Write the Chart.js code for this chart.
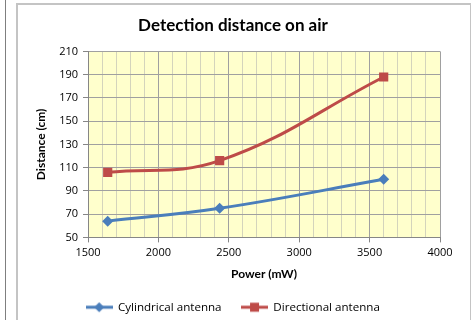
<!DOCTYPE html>
<html>
<head>
<meta charset="utf-8">
<script src="https://cdn.jsdelivr.net/npm/chart.js@4.4.1/dist/chart.umd.min.js"></script>
<style>
  html, body { margin: 0; padding: 0; background: #fff; overflow: hidden; }
  body { width: 471px; height: 320px; position: relative; }
  #sideRule { position: absolute; left: 5px; top: 0; width: 1px; height: 320px; background: #7f7f7f; }
  #frame { position: absolute; left: 16px; top: 3px; width: 452px; height: 340px;
           border: 2px solid #c4c4c4; border-bottom: none; }
  #wrap { position: absolute; left: 18px; top: 5px; width: 452px; height: 335px; }
</style>
</head>
<body>
<div id="sideRule"></div>
<div id="frame"></div>
<div id="wrap"><canvas id="distChart" width="452" height="335"></canvas></div>
<script>
// ============================
// Data
// ============================
const powerMw      = [1640, 2435, 3600];
const cylindrical  = [64, 75, 100];
const directional  = [106, 116, 188];
const seriesNames  = ['Cylindrical antenna', 'Directional antenna'];
const xTickLabels  = [1500, 2000, 2500, 3000, 3500, 4000];
const yTickLabels  = [50, 70, 90, 110, 130, 150, 170, 190, 210];

const BLUE = '#4a7ebb';
const RED  = '#be4b48';
const FONT = 'Lato, "Open Sans", sans-serif';
const BODY_FONT = '"Open Sans", Lato, sans-serif';

function toPoints(ys) {
    return powerMw.map((x, i) => ({ x: x, y: ys[i] }));
}

// ============================
// Legend icon: line with marker in the middle
// ============================
function legendIcon(color, shape) {
    const c = document.createElement('canvas');
    c.width = 27; c.height = 12;
    const g = c.getContext('2d');
    g.strokeStyle = color;
    g.lineWidth = 3;
    g.beginPath();
    g.moveTo(0, 6); g.lineTo(27, 6);
    g.stroke();
    g.fillStyle = color;
    g.beginPath();
    if (shape === 'diamond') {
        g.moveTo(13.5, 1); g.lineTo(18.5, 6); g.lineTo(13.5, 11); g.lineTo(8.5, 6);
    } else {
        g.rect(9, 1.5, 9, 9);
    }
    g.closePath();
    g.fill();
    return c;
}
const icons = [legendIcon(BLUE, 'diamond'), legendIcon(RED, 'square')];

// ============================
// Plot background
// ============================
const plotBg = {
    id: 'plotBg',
    beforeDraw(chart) {
        const { ctx, chartArea: a } = chart;
        ctx.save();
        ctx.fillStyle = '#ffffcc';
        ctx.fillRect(a.left, a.top, a.right - a.left, a.bottom - a.top);
        ctx.restore();
    }
};

const ctx = document.getElementById('distChart').getContext('2d');

new Chart(ctx, {
    type: 'line',
    data: {
        datasets: [
            {
                label: seriesNames[0],
                data: toPoints(cylindrical),
                borderColor: BLUE,
                backgroundColor: BLUE,
                borderWidth: 3,
                pointStyle: 'rectRot',
                pointRadius: 5.5,
                pointBorderWidth: 0,
                tension: 0.4
            },
            {
                label: seriesNames[1],
                data: toPoints(directional),
                borderColor: RED,
                backgroundColor: RED,
                borderWidth: 3,
                pointStyle: 'rect',
                pointRadius: 6.5,
                pointBorderWidth: 0,
                tension: 0.4
            }
        ]
    },
    options: {
        responsive: false,
        animation: false,
        layout: { padding: { left: 8, right: 30, top: 0, bottom: 17 } },
        plugins: {
            title: {
                display: true,
                text: 'Detection distance on air',
                color: '#000',
                font: { family: FONT, size: 17, weight: 'bold' },
                padding: { top: 10, bottom: 16 }
            },
            legend: {
                position: 'bottom',
                labels: {
                    usePointStyle: true,
                    pointStyleWidth: 26,
                    padding: 20,
                    color: '#000',
                    font: { family: BODY_FONT, size: 11.6 },
                    generateLabels(chart) {
                        const items = Chart.defaults.plugins.legend.labels.generateLabels(chart);
                        items.forEach((it, i) => { it.pointStyle = icons[i]; });
                        return items;
                    }
                }
            },
            tooltip: { enabled: false }
        },
        scales: {
            x: {
                type: 'linear',
                min: xTickLabels[0],
                max: xTickLabels[xTickLabels.length - 1],
                afterFit(scale) { scale.height = 44; },
                afterBuildTicks(scale) {
                    // every 100 mW, labelled only at the 500 steps
                    const t = [];
                    for (let v = scale.min; v <= scale.max; v += 100) t.push({ value: v });
                    scale.ticks = t;
                },
                ticks: {
                    autoSkip: false,
                    maxRotation: 0,
                    padding: 4,
                    color: '#000',
                    font: { family: BODY_FONT, size: 11 },
                    callback: (v) => xTickLabels.includes(v) ? String(v) : ''
                },
                grid: {
                    color: (c) => (c.tick && xTickLabels.includes(c.tick.value)) ? '#a0a0a0' : '#d4d4bc',
                    tickColor: (c) => (c.tick && xTickLabels.includes(c.tick.value)) ? '#868686' : 'rgba(0,0,0,0)',
                    tickLength: 5,
                    lineWidth: 1
                },
                border: { color: '#868686', width: 1 },
                title: {
                    display: true,
                    text: 'Power (mW)',
                    color: '#000',
                    font: { family: FONT, size: 12, weight: 'bold' },
                    padding: { top: 0, bottom: 0 }
                }
            },
            y: {
                min: yTickLabels[0],
                max: yTickLabels[yTickLabels.length - 1],
                afterFit(scale) { scale.width = 62; },
                ticks: {
                    stepSize: 20,
                    padding: 5,
                    color: '#000',
                    font: { family: BODY_FONT, size: 11 }
                },
                grid: {
                    color: '#a0a0a0',
                    tickColor: '#868686',
                    tickLength: 5,
                    lineWidth: 1
                },
                border: { color: '#868686', width: 1 },
                title: {
                    display: true,
                    text: 'Distance (cm)',
                    color: '#000',
                    font: { family: FONT, size: 12, weight: 'bold' },
                    padding: { top: 8, bottom: 0 }
                }
            }
        }
    },
    plugins: [plotBg]
});
</script>
</body>
</html>
